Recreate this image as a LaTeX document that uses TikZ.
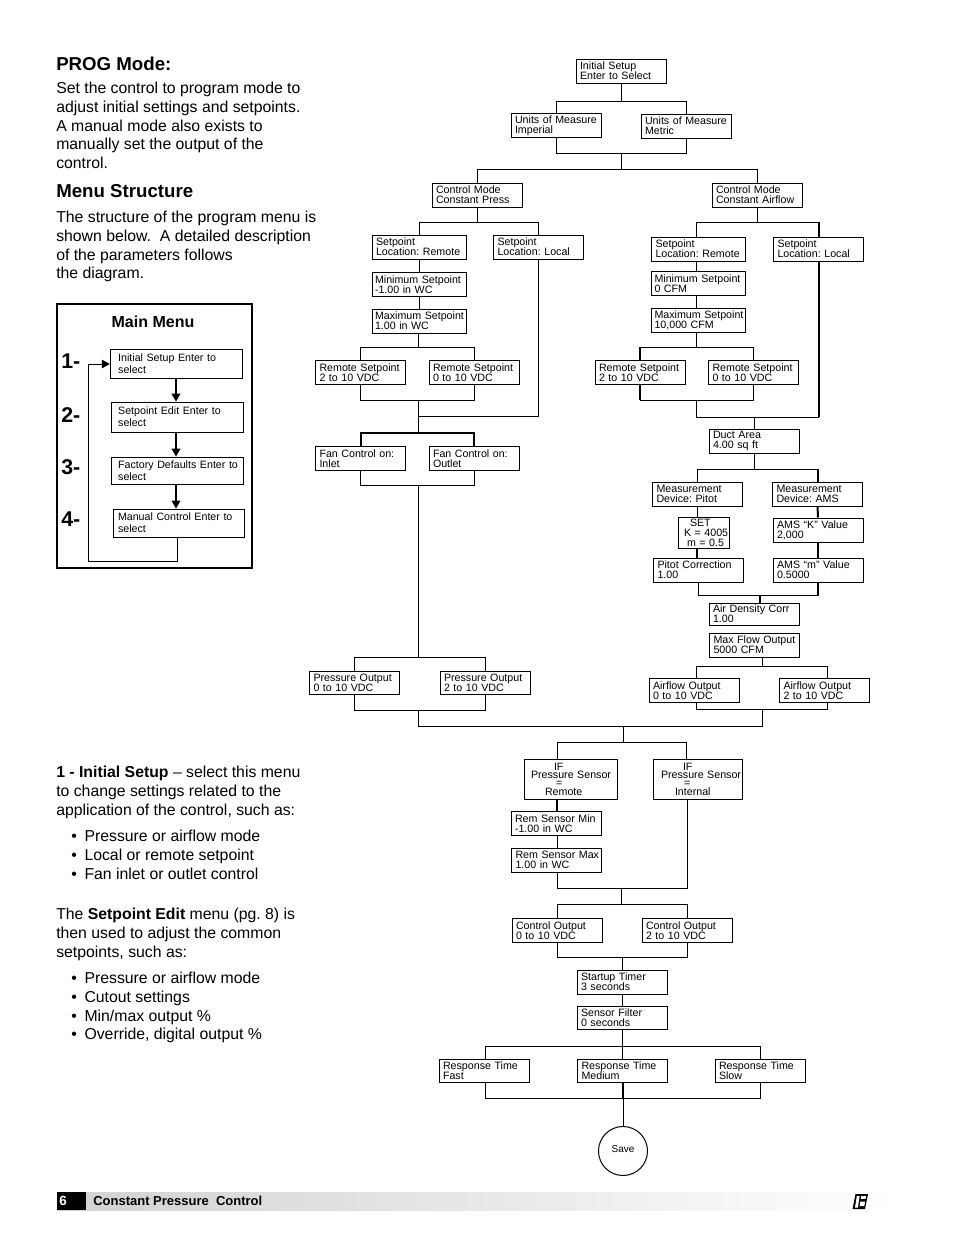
\documentclass[tikz,border=0pt]{standalone}
\usepackage{fontspec}
\setmainfont{Liberation Sans}
\usetikzlibrary{arrows.meta}
\hyphenpenalty=10000
\frenchspacing
\tikzset{
  x=0.75pt, y=-0.75pt,
  menu/.style={rectangle, draw, line width=0.75pt, inner xsep=3pt, inner ysep=0pt, minimum height=18pt, text width=#1, align=left, font=\fontsize{8}{7.5}\selectfont},
  menu/.default=61.5pt,
  entry/.style={rectangle, draw, line width=0.6pt, inner xsep=6pt, inner ysep=0pt, minimum height=#1, text width=87.5pt, align=left, font=\fontsize{8}{9}\selectfont},
  entry/.default=21.75pt,
  link/.style={line width=0.75pt},
  heavy/.style={line width=1.5pt},
  arrow/.style={line width=1.2pt, -{Triangle[length=6pt, width=6.5pt]}},
  title/.style={anchor=north west, inner sep=0pt, font=\fontsize{14}{14}\bfseries\selectfont},
  para/.style={anchor=north west, inner sep=0pt, align=left, font=\fontsize{11.85}{14}\selectfont},
  step label/.style={anchor=west, inner sep=0pt, font=\fontsize{16}{16}\bfseries\selectfont}
}
\begin{document}
\begin{tikzpicture}
\useasboundingbox (0,0) rectangle (954,1235);

% page text
\node [title] at (56,56.5) (progtitle) {PROG Mode:};
\node [para] at (56,82) (progtext) {Set the control to program mode to\\adjust initial settings and setpoints.\\A manual mode also exists to\\manually set the output of the\\control.};
\node [title] at (56,184.5) (menutitle) {Menu Structure};
\node [para] at (56,211) (menutext) {The structure of the program menu is\\shown below.\ \ A detailed description\\of the parameters follows\\the diagram.};
\node [para] at (56,766) (setuptext) {\textbf{1 - Initial Setup} -- select this menu\\to change settings related to the\\application of the control, such as:};
\node [para] at (71,830) (setuplist) {•\hspace{5.8pt}Pressure or airflow mode\\•\hspace{5.8pt}Local or remote setpoint\\•\hspace{5.8pt}Fan inlet or outlet control};
\node [para] at (56,908) (edittext) {The \textbf{Setpoint Edit} menu (pg. 8) is\\then used to adjust the common\\setpoints, such as:};
\node [para] at (71,972) (editlist) {•\hspace{5.8pt}Pressure or airflow mode\\•\hspace{5.8pt}Cutout settings\\•\hspace{5.8pt}Min/max output \%\\•\hspace{5.8pt}Override, digital output \%};

% main menu
\node [rectangle, draw, line width=1.5pt, minimum width=146.25pt, minimum height=198pt, inner sep=0pt] at (154.5,436) (mainbox) {};
\node [inner sep=0pt, font=\fontsize{12}{14}\bfseries\selectfont] at (153,322) (maintitle) {Main Menu};
\node [entry] at (176.5,363.5) (msetup) {Initial Setup Enter to\\select};
\node [entry=22.5pt, inner xsep=5.25pt, text width=89pt] at (177.5,417) (medit) {Setpoint Edit Enter to\\select};
\node [entry=20.25pt, inner xsep=5.25pt, text width=89pt] at (177.5,470.5) (mfactory) {Factory~Defaults~Enter~to\\select};
\node [entry=21pt, inner xsep=3.75pt, text width=90.75pt] at (178.5,523) (mmanual) {Manual Control Enter to\\select};
\node [step label] at (61,361) (stepa) {1-};
\node [step label] at (61,415) (stepb) {2-};
\node [step label] at (61,467) (stepc) {3-};
\node [step label] at (61,519) (stepd) {4-};
\coordinate (loopa) at (177,561);
\coordinate (loopb) at (88,364);
\draw [arrow] (msetup.south -| 176,0) -- (medit.north -| 176,0);
\draw [arrow] (medit.south -| 176,0) -- (mfactory.north -| 176,0);
\draw [arrow] (mfactory.south -| 176,0) -- (mmanual.north -| 176,0);
\draw [link, line width=0.6pt] (mmanual.south -| loopa) -- (loopa) -| (loopb);
\draw [line width=0.6pt, -{Triangle[length=6pt, width=6.5pt]}] (loopb) -- (msetup.west |- loopb);

% top of the flow
\node [menu] at (621,71) (init) {Initial Setup\\Enter to Select};
\node [menu] at (556,125.5) (unitsimp) {Units of Measure\\Imperial};
\node [menu] at (686,126) (unitsmet) {Units of Measure\\Metric};
\node [menu] at (477,195) (modepress) {Control Mode\\Constant Press};
\node [menu] at (757,195) (modeair) {Control Mode\\Constant Airflow};
\coordinate (busa) at (621,101);
\coordinate (busb) at (621,153);
\coordinate (busc) at (621,169);
\draw [link] (init) -- (busa);
\draw [link] (unitsimp) |- (busa);
\draw [link] (unitsmet) |- (busa);
\draw [link] (unitsimp) |- (busb);
\draw [link] (unitsmet) |- (busb);
\draw [link] (busb) -- (busc);
\draw [link] (modepress) |- (busc);
\draw [link] (modeair) |- (busc);

% constant press branch
\node [menu=64.5pt] at (419,247) (locremp) {Setpoint\\Location: Remote};
\node [menu] at (538.5,247) (loclocp) {Setpoint\\Location: Local};
\node [menu=66pt, inner xsep=2.25pt] at (419,284.5) (minp) {Minimum~Setpoint\\-1.00 in WC};
\node [menu=66pt, inner xsep=2.25pt] at (419,321) (maxp) {Maximum~Setpoint\\1.00 in WC};
\node [menu] at (360.5,372.5) (remptwo) {Remote Setpoint\\2 to 10 VDC};
\node [menu] at (474,372.5) (rempzero) {Remote Setpoint\\0 to 10 VDC};
\node [menu] at (360.5,458.5) (faninlet) {Fan Control on:\\Inlet};
\node [menu] at (474,458.5) (fanoutlet) {Fan Control on:\\Outlet};
\coordinate (busd) at (477,222);
\coordinate (buse) at (418.5,347);
\coordinate (busf) at (418.5,400);
\coordinate (busg) at (418.5,416);
\coordinate (bush) at (418.5,433);
\coordinate (busi) at (418.5,485);
\draw [link] (modepress) -- (busd);
\draw [link] (locremp) |- (busd);
\draw [link] (loclocp) |- (busd);
\draw [link] (locremp) -- (minp);
\draw [link] (minp) -- (maxp);
\draw [link] (maxp.south -| buse) -- (buse);
\draw [link] (remptwo) |- (buse);
\draw [link] (rempzero) |- (buse);
\draw [link] (remptwo) |- (busf);
\draw [link] (rempzero) |- (busf);
\draw [link] (busf) -- (bush);
\draw [link] (loclocp) |- (busg);
\draw [heavy] (faninlet) |- (bush);
\draw [heavy] (fanoutlet) |- (bush);
\draw [link] (faninlet) |- (busi);
\draw [link] (fanoutlet) |- (busi);

% constant airflow branch
\node [menu=64.5pt] at (698.5,249) (locrema) {Setpoint\\Location: Remote};
\node [menu] at (818.5,249) (loclocair) {Setpoint\\Location: Local};
\node [menu=66pt, inner xsep=2.25pt] at (698.5,283.5) (mina) {Minimum~Setpoint\\0 CFM};
\node [menu=66pt, inner xsep=2.25pt] at (698.5,320) (maxa) {Maximum~Setpoint\\10,000 CFM};
\node [menu] at (640,372.5) (rematwo) {Remote Setpoint\\2 to 10 VDC};
\node [menu] at (753.5,372.5) (remazero) {Remote Setpoint\\0 to 10 VDC};
\node [menu] at (754,441) (duct) {Duct Area\\4.00 sq ft};
\coordinate (busj) at (757,222);
\coordinate (busk) at (696,347);
\coordinate (busl) at (696,400);
\coordinate (busm) at (754,417);
\coordinate (busn) at (754,469);
\draw [link] (modeair) -- (busj);
\draw [link] (locrema.north -| busk) |- (busj);
\draw [link] (loclocair) |- (busj);
\draw [heavy] (loclocair) -- (loclocair |- busj);
\draw [link] (locrema.south -| busk) -- (mina.north -| busk);
\draw [link] (mina.south -| busk) -- (maxa.north -| busk);
\draw [link] (maxa.south -| busk) -- (busk);
\draw [link] (rematwo) |- (busk);
\draw [heavy] (rematwo) -- (rematwo |- busk);
\draw [link] (remazero) |- (busk);
\draw [link] (rematwo) |- (busl);
\draw [heavy] (rematwo) -- (rematwo |- busl);
\draw [link] (remazero) |- (busl);
\draw [link] (busl) |- (busm);
\draw [link] (loclocair) |- (busm);
\draw [heavy] (loclocair) -- (loclocair |- busm);
\draw [link] (duct) -- (busm);

% measurement
\node [menu] at (697.5,494) (devpitot) {Measurement\\Device: Pitot};
\node [menu] at (817.5,494) (devams) {Measurement\\Device: AMS};
\node [menu=32.25pt, minimum height=23.25pt] at (703.5,532.5) (setk) {\hspace*{6pt}SET\\\hspace*{1.5pt}K~=~4005\\\hspace*{3.75pt}m~=~0.5};
\node [menu] at (698.5,570) (pitot) {Pitot Correction\\1.00};
\node [menu] at (818,530) (amsk) {AMS “K” Value\\2,000};
\node [menu] at (818,570) (amsm) {AMS “m” Value\\0.5000};
\node [menu, minimum height=16.5pt] at (754,614) (density) {Air Density Corr\\1.00};
\node [menu] at (754.5,645) (maxflow) {Max Flow Output\\5000 CFM};
\node [menu] at (694,690.5) (flowzero) {Airflow Output\\0 to 10 VDC};
\node [menu] at (824.5,690.5) (flowtwo) {Airflow Output\\2 to 10 VDC};
\coordinate (buso) at (760,595);
\coordinate (busp) at (762,666);
\coordinate (busq) at (762,709);
\draw [link] (duct) -- (busn);
\draw [link] (devpitot) |- (busn);
\draw [link] (devams) |- (busn);
\draw [heavy] (devams) -- (devams |- busn);
\draw [link] (devpitot.south -| 697,0) -- (setk.north -| 697,0);
\draw [heavy] (setk.south -| 697,0) -- (pitot.north -| 697,0);
\draw [heavy] (devams) -- (amsk);
\draw [heavy] (amsk) -- (amsm);
\draw [link] (pitot) |- (buso);
\draw [link] (amsm) |- (buso);
\draw [heavy] (amsm) -- (amsm |- buso);
\draw [heavy] (buso) -- (density.north -| buso);
\draw [link] (maxflow.south -| busp) -- (busp);
\draw [link] (flowzero.north -| 696,0) |- (busp);
\draw [link] (flowtwo.north -| 827,0) |- (busp);
\draw [link] (flowzero.south -| 696,0) |- (busq);
\draw [link] (flowtwo.south -| 827,0) |- (busq);

% outputs
\node [menu, minimum height=17.25pt] at (354.5,682.5) (presszero) {Pressure Output\\0 to 10 VDC};
\node [menu, minimum height=17.25pt] at (485,682.5) (presstwo) {Pressure Output\\2 to 10 VDC};
\coordinate (busr) at (418.5,657);
\coordinate (buss) at (418.5,710);
\coordinate (bust) at (623,726);
\coordinate (busu) at (623,742);
\draw [link] (busi) -- (busr);
\draw [link] (presszero) |- (busr);
\draw [link] (presstwo) |- (busr);
\draw [link] (presszero) |- (buss);
\draw [link] (presstwo) |- (buss);
\draw [link] (buss) |- (bust);
\draw [link] (busq) |- (bust);
\draw [link] (bust) -- (busu);

% sensor
\node [menu=63.75pt, minimum height=30pt, font=\fontsize{8}{6.3}\selectfont] at (570.5,779) (ifremote) {\hspace*{19.5pt}IF\\\hspace*{2.25pt}Pressure~Sensor\\\hspace*{21pt}=\\\hspace*{12.75pt}Remote};
\node [menu=60.75pt, minimum height=30pt, font=\fontsize{8}{6.3}\selectfont] at (697.5,779) (ifinternal) {\hspace*{19.5pt}IF\\\hspace*{3pt}Pressure~Sensor\\\hspace*{20.25pt}=\\\hspace*{13.5pt}Internal};
\node [menu] at (556,823.5) (remmin) {Rem~Sensor~Min\\-1.00 in WC};
\node [menu] at (556.5,860) (remmax) {Rem~Sensor~Max\\1.00 in WC};
\node [menu] at (557,930.5) (ctrlzero) {Control Output\\0 to 10 VDC};
\node [menu] at (687,930.5) (ctrltwo) {Control Output\\2 to 10 VDC};
\coordinate (busv) at (621,888);
\coordinate (busw) at (621,904);
\coordinate (busx) at (622,957);
\draw [link] (ifremote.north -| 557,0) |- (busu);
\draw [link] (ifinternal.north -| 686,0) |- (busu);
\draw [heavy] (ifremote.south -| 557,0) -- (remmin.north -| 557,0);
\draw [link] (remmin.south -| 557,0) -- (remmax.north -| 557,0);
\draw [link] (remmax.south -| 557.5,0) |- (busv);
\draw [link] (ifinternal.south -| 687,0) |- (busv);
\draw [link] (busv) -- (busw);
\draw [link] (ctrlzero) |- (busw);
\draw [link] (ctrltwo) |- (busw);
\draw [link] (ctrlzero) |- (busx);
\draw [link] (ctrltwo) |- (busx);

% end of the flow
\node [menu] at (622,982) (startup) {Startup Timer\\3 seconds};
\node [menu, minimum height=17.25pt] at (622,1018) (filter) {Sensor Filter\\0 seconds};
\node [menu, minimum height=17.25pt] at (484,1070.5) (respfast) {Response Time\\Fast};
\node [menu, minimum height=17.25pt] at (622.5,1070.5) (respmed) {Response Time\\Medium};
\node [menu, minimum height=17.25pt] at (760,1070.5) (respslow) {Response Time\\Slow};
\node [circle, draw, line width=0.75pt, minimum size=36.75pt, inner sep=0pt, text depth=3pt, font=\fontsize{7.5}{9}\selectfont] at (623,1151) (save) {Save};
\coordinate (busy) at (622,1046);
\coordinate (busz) at (623,1098);
\draw [link] (busx) -- (startup);
\draw [link] (startup) -- (filter);
\draw [link] (filter) -- (busy);
\draw [link] (respfast.north -| 485,0) |- (busy);
\draw [link] (respmed.north -| busy) -- (busy);
\draw [link] (respslow) |- (busy);
\draw [link] (respfast.south -| 485,0) |- (busz);
\draw [link] (respslow) |- (busz);
\draw [heavy] (respmed.south -| busz) -- (busz);
\draw [link] (busz) -- (save);

% page footer
\shade [left color=black!18, right color=white] (57,1192) rectangle (895,1210);
\fill [black] (57,1192) rectangle (86,1210);
\node [anchor=west, inner sep=0pt, text=white, font=\fontsize{10}{12}\bfseries\selectfont] at (59,1201) (pagenum) {6};
\node [anchor=west, inner sep=0pt, font=\fontsize{9.75}{12}\bfseries\selectfont] at (93,1201) (pagetitle) {Constant Pressure\ \ Control};
\fill [black] (855.5,1194) -- (868,1194) -- (865,1209) -- (852.5,1209) -- cycle;
\fill [white] (856.8,1196) -- (859.6,1196) -- (857.9,1207.5) -- (855,1207.5) -- cycle;
\fill [white] (861.2,1196) -- (866,1196) -- (865.6,1198.8) -- (860.8,1198.8) -- cycle;
\fill [white] (860.2,1201.5) -- (865,1201.5) -- (864.3,1206) -- (859.6,1206) -- cycle;
\end{tikzpicture}
\end{document}
